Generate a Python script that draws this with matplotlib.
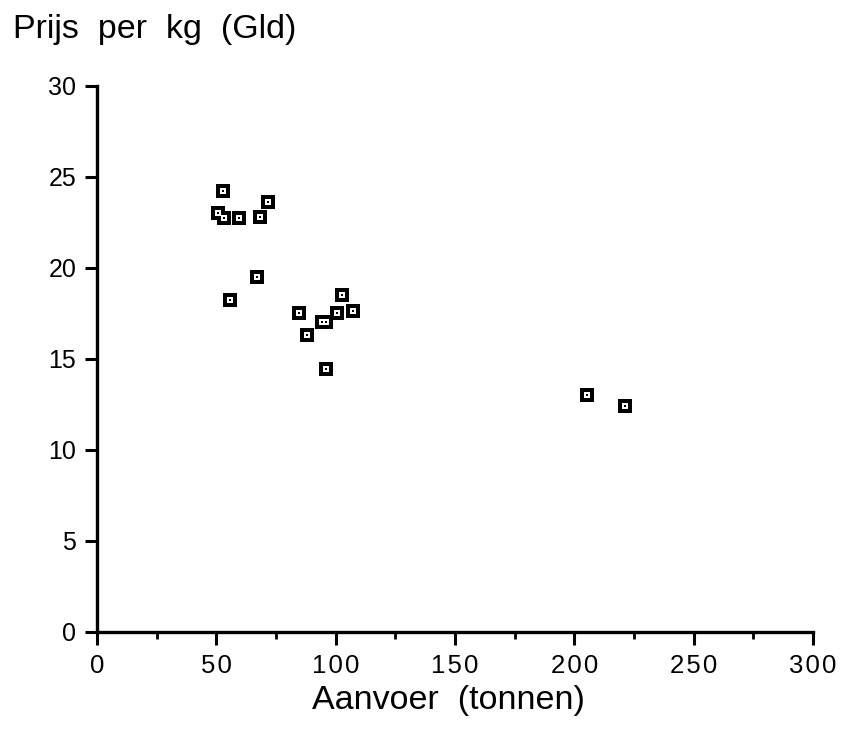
import matplotlib
matplotlib.use("Agg")
import matplotlib.pyplot as plt
from matplotlib.ticker import MultipleLocator

plt.rcParams['font.family'] = ['Liberation Sans', 'DejaVu Sans']

# Data
aanvoer = [50.7, 52.8, 53.2, 59.5, 55.7, 68.3, 71.6, 67.0,
           84.6, 88.0, 94.3, 96.0, 100.5, 102.6, 107.2, 95.9,
           205.3, 221.2]
prijs = [23.0, 24.2, 22.7, 22.7, 18.2, 22.8, 23.6, 19.5,
         17.5, 16.3, 17.0, 17.0, 17.5, 18.5, 17.6, 14.4,
         13.0, 12.4]
x_ticks = [0, 50, 100, 150, 200, 250, 300]
y_ticks = [0, 5, 10, 15, 20, 25, 30]
title_text = "Prijs  per  kg  (Gld)"
xlabel_text = "Aanvoer  (tonnen)"

fig = plt.figure(figsize=(8.41, 7.45), dpi=100)
ax = fig.add_axes([97/841, (745-631.5)/745, (813-97)/841, (631.5-85.5)/745])

ax.plot(aanvoer, prijs, linestyle='none', marker='s', markersize=9.5,
        markeredgewidth=0, markerfacecolor='black', clip_on=False)
ax.plot(aanvoer, prijs, linestyle='none', marker='s', markersize=4.2,
        markeredgewidth=0, markerfacecolor='white', clip_on=False)
ax.plot(aanvoer, prijs, linestyle='none', marker='s', markersize=1.8,
        markeredgewidth=0, markerfacecolor='black', clip_on=False)

ax.set_xlim(0, 300)
ax.set_ylim(0, 30)
ax.set_xticks(x_ticks)
ax.set_xticklabels(["\u200a".join(str(t)) for t in x_ticks])
ax.set_yticks(y_ticks)
ax.xaxis.set_minor_locator(MultipleLocator(25))

for s in ['top', 'right']:
    ax.spines[s].set_visible(False)
for s in ['left', 'bottom']:
    ax.spines[s].set_linewidth(2.4)

ax.tick_params(axis='both', which='major', direction='out', length=9,
               width=2.2, labelsize=18, pad=6, colors='black')
ax.tick_params(axis='x', which='minor', direction='out', length=5, width=2.0)
ax.tick_params(axis='x', which='major', labelsize=18.5, pad=7)

fig.text(13/841, 1 - 38/745, title_text, fontsize=24.5, ha='left',
         va='baseline', color='black')
fig.text(448/841, 1 - 700/745, xlabel_text, fontsize=24.5, ha='center',
         va='center', color='black')

fig.savefig("out.png", dpi=100, facecolor='white')
